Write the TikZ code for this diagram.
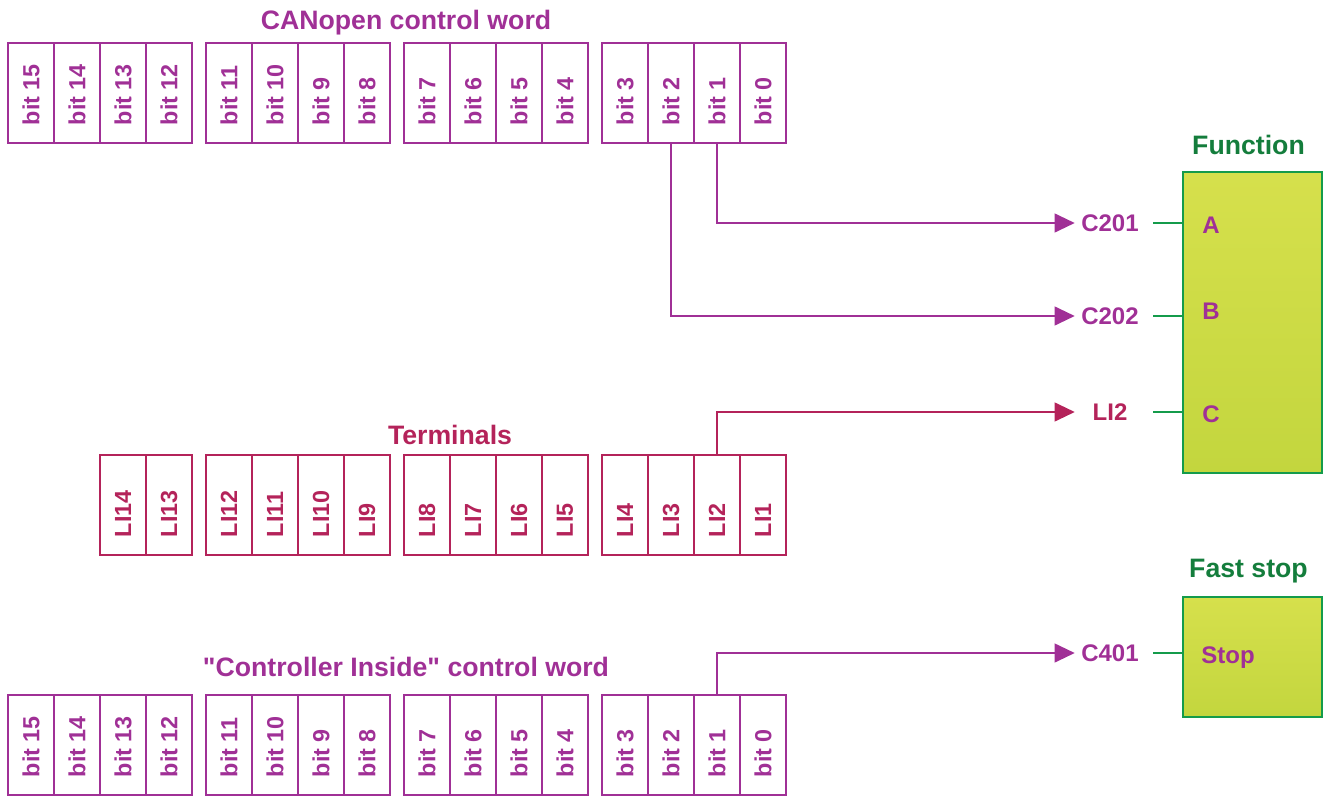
\documentclass[tikz,border=0pt]{standalone}
\usepackage{fontspec}
\setmainfont{Liberation Sans}
\usetikzlibrary{arrows.meta,positioning}
\definecolor{cwpurple}{RGB}{160,48,150}
\definecolor{termred}{RGB}{180,35,90}
\definecolor{fnline}{RGB}{20,155,75}
\definecolor{fntitle}{RGB}{20,125,60}
\definecolor{fntop}{RGB}{214,224,76}
\definecolor{fnbot}{RGB}{195,214,62}
\newcommand{\celltxt}[1]{\rotatebox{90}{\makebox[48pt][l]{#1}}}
\tikzset{
  bitcell/.style={rectangle,draw=cwpurple,text=cwpurple,line width=1.5pt,outer sep=0pt,inner sep=0pt,
    minimum width=34.5pt,minimum height=75pt,font=\fontsize{17.5}{20}\selectfont\bfseries},
  termcell/.style={bitcell,draw=termred,text=termred},
  rowtitle/.style={inner sep=0pt,text depth=0pt,text=cwpurple,font=\fontsize{20}{24}\selectfont\bfseries},
  fntitlestyle/.style={rowtitle,text=fntitle},
  lblnode/.style={inner sep=0pt,text depth=0pt,minimum width=52.5pt,text=cwpurple,font=\fontsize{18}{22}\selectfont\bfseries},
  portlbl/.style={lblnode,minimum width=0pt},
  fnbox/.style={rectangle,draw=fnline,line width=1.5pt,top color=fntop,bottom color=fnbot,minimum width=104.25pt},
  pconn/.style={-{Triangle[length=15pt,width=14pt]},line width=1.5pt,draw=cwpurple},
  tconn/.style={pconn,draw=termred},
  gstub/.style={line width=1.5pt,draw=fnline}
}

\begin{document}
\begin{tikzpicture}[x=0.75pt,y=-0.75pt]
  \useasboundingbox (0,0) rectangle (1325,796);

  % CANopen control word
  \node[rowtitle] (cwttl) at (406,20) {CANopen control word};
  \node[bitcell] (cw15) at (31,93) {\celltxt{bit 15}};
  \node[bitcell,right=0pt of cw15] (cw14) {\celltxt{bit 14}}; \node[bitcell,right=0pt of cw14] (cw13) {\celltxt{bit 13}}; \node[bitcell,right=0pt of cw13] (cw12) {\celltxt{bit 12}};
  \node[bitcell,right=10.5pt of cw12] (cw11) {\celltxt{bit 11}}; \node[bitcell,right=0pt of cw11] (cw10) {\celltxt{bit 10}};
  \node[bitcell,right=0pt of cw10] (cw9) {\celltxt{bit 9}}; \node[bitcell,right=0pt of cw9] (cw8) {\celltxt{bit 8}};
  \node[bitcell,right=10.5pt of cw8] (cw7) {\celltxt{bit 7}}; \node[bitcell,right=0pt of cw7] (cw6) {\celltxt{bit 6}};
  \node[bitcell,right=0pt of cw6] (cw5) {\celltxt{bit 5}}; \node[bitcell,right=0pt of cw5] (cw4) {\celltxt{bit 4}};
  \node[bitcell,right=10.5pt of cw4] (cw3) {\celltxt{bit 3}}; \node[bitcell,right=0pt of cw3] (cw2) {\celltxt{bit 2}};
  \node[bitcell,right=0pt of cw2] (cw1) {\celltxt{bit 1}}; \node[bitcell,right=0pt of cw1] (cw0) {\celltxt{bit 0}};

  % Terminals
  \node[rowtitle,text=termred] (termttl) at (450,435) {Terminals};
  \node[termcell] (li14) at (123,505) {\celltxt{LI14}}; \node[termcell,right=0pt of li14] (li13) {\celltxt{LI13}};
  \node[termcell,right=10.5pt of li13] (li12) {\celltxt{LI12}}; \node[termcell,right=0pt of li12] (li11) {\celltxt{LI11}};
  \node[termcell,right=0pt of li11] (li10) {\celltxt{LI10}}; \node[termcell,right=0pt of li10] (li9) {\celltxt{LI9}};
  \node[termcell,right=10.5pt of li9] (li8) {\celltxt{LI8}}; \node[termcell,right=0pt of li8] (li7) {\celltxt{LI7}};
  \node[termcell,right=0pt of li7] (li6) {\celltxt{LI6}}; \node[termcell,right=0pt of li6] (li5) {\celltxt{LI5}};
  \node[termcell,right=10.5pt of li5] (li4) {\celltxt{LI4}}; \node[termcell,right=0pt of li4] (li3) {\celltxt{LI3}};
  \node[termcell,right=0pt of li3] (li2) {\celltxt{LI2}}; \node[termcell,right=0pt of li2] (li1) {\celltxt{LI1}};

  % "Controller Inside" control word
  \node[rowtitle] (cittl) at (406,667) {\textquotedbl Controller Inside\textquotedbl{} control word};
  \node[bitcell] (ci15) at (31,745) {\celltxt{bit 15}};
  \node[bitcell,right=0pt of ci15] (ci14) {\celltxt{bit 14}}; \node[bitcell,right=0pt of ci14] (ci13) {\celltxt{bit 13}}; \node[bitcell,right=0pt of ci13] (ci12) {\celltxt{bit 12}};
  \node[bitcell,right=10.5pt of ci12] (ci11) {\celltxt{bit 11}}; \node[bitcell,right=0pt of ci11] (ci10) {\celltxt{bit 10}};
  \node[bitcell,right=0pt of ci10] (ci9) {\celltxt{bit 9}}; \node[bitcell,right=0pt of ci9] (ci8) {\celltxt{bit 8}};
  \node[bitcell,right=10.5pt of ci8] (ci7) {\celltxt{bit 7}}; \node[bitcell,right=0pt of ci7] (ci6) {\celltxt{bit 6}};
  \node[bitcell,right=0pt of ci6] (ci5) {\celltxt{bit 5}}; \node[bitcell,right=0pt of ci5] (ci4) {\celltxt{bit 4}};
  \node[bitcell,right=10.5pt of ci4] (ci3) {\celltxt{bit 3}}; \node[bitcell,right=0pt of ci3] (ci2) {\celltxt{bit 2}};
  \node[bitcell,right=0pt of ci2] (ci1) {\celltxt{bit 1}}; \node[bitcell,right=0pt of ci1] (ci0) {\celltxt{bit 0}};

  % function blocks
  \node[fnbox,minimum height=225.75pt] (fn) at (1252.5,322.5) {};
  \node[fntitlestyle,above=12pt of fn,xshift=-3pt] (fnttl) {Function};
  \node[fnbox,minimum height=90pt] (fs) at (1252.5,657) {};
  \node[fntitlestyle,above=14pt of fs,xshift=-3pt] (fsttl) {Fast stop};

  \node[portlbl] (pa) at (1211,225) {A};
  \node[portlbl] (pb) at (1211,311) {B};
  \node[portlbl] (pc) at (1211,414) {C};
  \node[portlbl] (pstop) at (1228,655) {Stop};

  \node[lblnode] (c201) at (1110,223) {C201};
  \node[lblnode] (c202) at (1110,316) {C202};
  \node[lblnode,text=termred] (li2lbl) at (1110,412) {LI2};
  \node[lblnode] (c401) at (1110,653) {C401};

  \draw[pconn] (cw1.south) |- (c201.west);
  \draw[pconn] (cw2.south) |- (c202.west);
  \draw[tconn] (li2.north) |- (li2lbl.west);
  \draw[pconn] (ci1.north) |- (c401.west);

  \draw[gstub] ([xshift=6pt]c201.east) -- (fn.west |- c201);
  \draw[gstub] ([xshift=6pt]c202.east) -- (fn.west |- c202);
  \draw[gstub] ([xshift=6pt]li2lbl.east) -- (fn.west |- li2lbl);
  \draw[gstub] ([xshift=6pt]c401.east) -- (fs.west |- c401);
\end{tikzpicture}
\end{document}
